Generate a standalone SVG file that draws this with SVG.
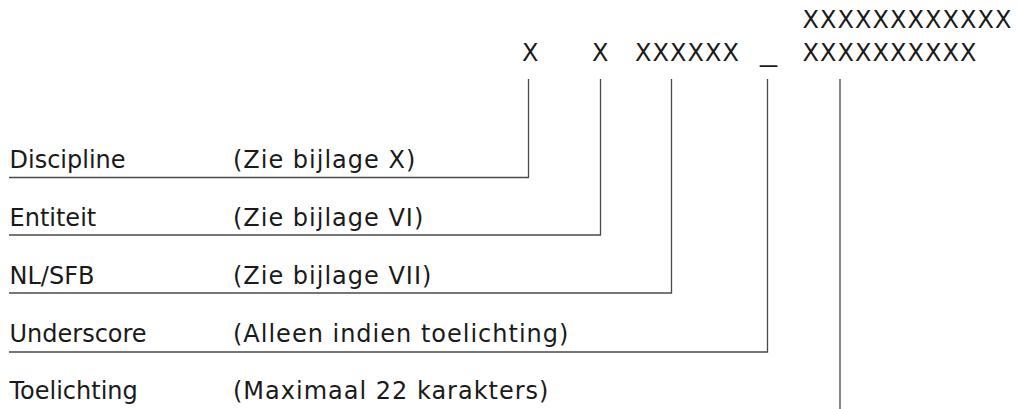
<svg xmlns="http://www.w3.org/2000/svg" width="1018" height="409" viewBox="0 0 1018 409">
<style>
text{font-family:"DejaVu Sans","Liberation Sans",sans-serif;font-size:24px;fill:#1a1a1a}
.d{letter-spacing:1px}
.k{letter-spacing:1.05px}
.c{fill:none;stroke:#4a4a4a;stroke-width:1.3}
</style>
<rect width="1018" height="409" fill="#fff"/>
<g id="code">
<text x="522" y="61">X</text>
<text x="592" y="61">X</text>
<text class="k" x="635" y="61">XXXXXX</text>
<text x="760" y="61" textLength="17" lengthAdjust="spacingAndGlyphs">_</text>
<text class="k" x="802.5" y="61">XXXXXXXXXX</text>
<text class="k" x="802.5" y="28">XXXXXXXXXXXX</text>
</g>
<g id="discipline"><text x="9.5" y="168">Discipline</text><text class="d" x="233" y="168">(Zie bijlage X)</text></g>
<g id="entiteit"><text x="9.5" y="226">Entiteit</text><text class="d" x="233" y="226">(Zie bijlage VI)</text></g>
<g id="nlsfb"><text x="9.5" y="284">NL/SFB</text><text class="d" x="233" y="284">(Zie bijlage VII)</text></g>
<g id="underscore"><text x="9.5" y="342">Underscore</text><text class="d" x="233" y="342">(Alleen indien toelichting)</text></g>
<g id="toelichting"><text x="9.5" y="399">Toelichting</text><text class="d" x="233" y="399">(Maximaal 22 karakters)</text></g>
<g id="connectors">
<polyline class="c" points="528.5,79 528.5,177.5 9,177.5"/>
<polyline class="c" points="600.5,79 600.5,235 9,235"/>
<polyline class="c" points="671.5,79 671.5,293 9,293"/>
<polyline class="c" points="767.5,79 767.5,352 9,352"/>
<polyline class="c" points="840,79 840,409.6 9,409.6"/>
</g>
</svg>
